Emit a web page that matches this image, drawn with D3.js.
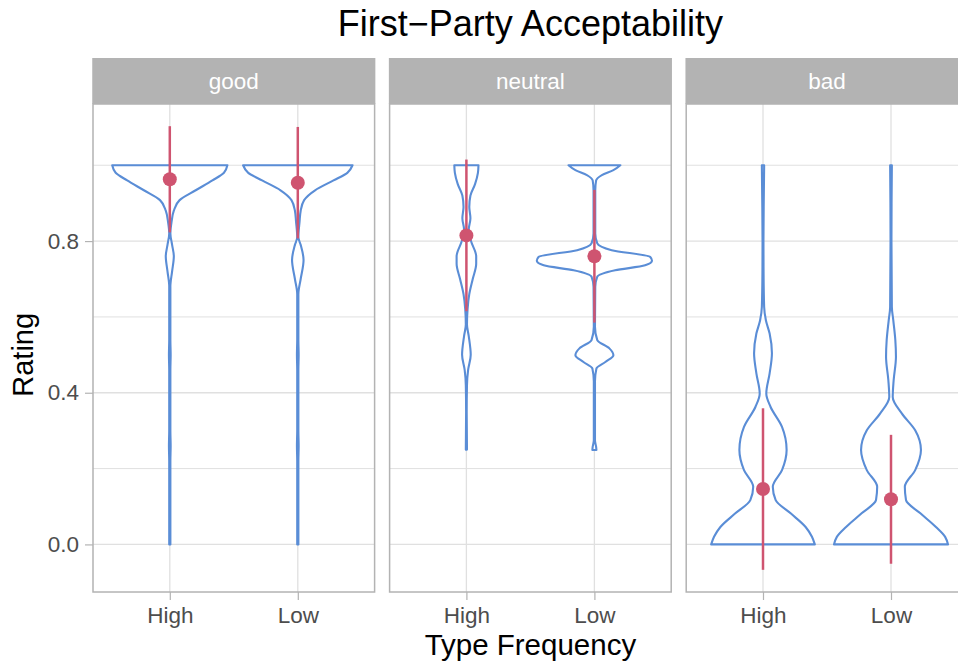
<!DOCTYPE html>
<html>
<head>
<meta charset="utf-8">
<script src="https://cdn.jsdelivr.net/npm/d3@7"></script>
<style>
  body { margin: 0; background: #fff; }
  svg { display: block; font-family: 'Liberation Sans', Arial, sans-serif; }
</style>
</head>
<body>
<div id="chart"></div>
<script>
const facets = ['good', 'neutral', 'bad']
const freqs = ['High', 'Low']
const yTicks = [0, 0.4, 0.8]
const yMinor = [0.2, 0.6, 1.0]

// [rating, density], density 1 = widest violin
const goodHigh = [
  [0.00, 0.01], [0.22, 0.01], [0.26, 0.015], [0.30, 0.01], [0.46, 0.01], [0.50, 0.015],
  [0.54, 0.01], [0.68, 0.01], [0.72, 0.04], [0.76, 0.07], [0.79, 0.04], [0.82, 0.01],
  [0.85, 0.03], [0.88, 0.07], [0.908, 0.17], [0.934, 0.45], [0.96, 0.74], [0.98, 0.94], [1.00, 1.00]
]
const goodLow = [
  [0.00, 0.01], [0.22, 0.01], [0.26, 0.015], [0.30, 0.01], [0.46, 0.01], [0.50, 0.015],
  [0.54, 0.01], [0.66, 0.01], [0.70, 0.05], [0.75, 0.10], [0.79, 0.05], [0.81, 0.01],
  [0.85, 0.03], [0.88, 0.05], [0.908, 0.11], [0.934, 0.30], [0.96, 0.62], [0.98, 0.86], [1.00, 0.95]
]
const neutralHigh = [
  [0.25, 0.01], [0.35, 0.005], [0.42, 0.01], [0.46, 0.03], [0.50, 0.075], [0.55, 0.04],
  [0.58, 0.01], [0.62, 0.02], [0.66, 0.05], [0.70, 0.11], [0.74, 0.17], [0.76, 0.17],
  [0.80, 0.08], [0.83, 0.04], [0.86, 0.07], [0.89, 0.05], [0.92, 0.07], [0.95, 0.15],
  [0.98, 0.20], [1.00, 0.21]
]
const neutralLow = [
  [0.249, 0.035], [0.257, 0.03], [0.275, 0.01], [0.43, 0.01], [0.464, 0.035], [0.481, 0.19],
  [0.499, 0.33], [0.517, 0.26], [0.539, 0.05], [0.574, 0.01], [0.679, 0.015], [0.706, 0.05],
  [0.723, 0.36], [0.736, 0.88], [0.748, 1.00], [0.758, 0.97], [0.776, 0.30], [0.794, 0.05],
  [0.82, 0.015], [0.934, 0.015], [0.96, 0.03], [0.974, 0.13], [0.987, 0.33], [1.00, 0.45]
]
const badHigh = [
  [0.00, 0.90], [0.02, 0.85], [0.046, 0.74], [0.082, 0.48], [0.117, 0.22], [0.152, 0.17],
  [0.196, 0.33], [0.249, 0.41], [0.31, 0.33], [0.363, 0.13], [0.398, 0.057], [0.451, 0.115],
  [0.504, 0.155], [0.556, 0.115], [0.591, 0.05], [0.626, 0.02], [0.715, 0.01], [0.80, 0.008],
  [0.89, 0.012], [1.00, 0.02]
]
const badLow = [
  [0.00, 0.99], [0.02, 0.94], [0.046, 0.78], [0.082, 0.51], [0.117, 0.26], [0.152, 0.24],
  [0.196, 0.42], [0.249, 0.52], [0.301, 0.42], [0.345, 0.19], [0.389, 0.03], [0.433, 0.046],
  [0.495, 0.086], [0.539, 0.075], [0.591, 0.04], [0.626, 0.015], [0.80, 0.008], [0.90, 0.01],
  [1.00, 0.015]
]
const violins = [[goodHigh, goodLow], [neutralHigh, neutralLow], [badHigh, badLow]]

// mean rating and half-length of the interval, per facet then frequency
const meanRating = [[0.963, 0.954], [0.815, 0.760], [0.146, 0.119]]
const errRating = [[0.140, 0.147], [0.200, 0.175], [0.213, 0.170]]

const width = 958
const height = 667
const panelLeft = 93
const panelW = 281.6
const panelGap = 15
const stripTop = 58
const panelTop = 104
const panelBottom = 592

const blue = '#5A8DD6'
const red = '#CF5470'
const grid = '#E0E0E0'
const frame = '#B3B3B3'

const svg = d3.select('#chart').append('svg')
  .attr('width', width)
  .attr('height', height)

svg.append('rect').attr('width', width).attr('height', height).attr('fill', '#fff')

// ggplot style 5% expansion round the interval ends
const lows = meanRating.flatMap((m, i) => m.map((v, j) => v - errRating[i][j]))
const highs = meanRating.flatMap((m, i) => m.map((v, j) => v + errRating[i][j]))
const lo = Math.min(d3.min(lows), 0)
const hi = Math.max(d3.max(highs), 1)
const pad = (hi - lo) * 0.05

const y = d3.scaleLinear().domain([lo - pad, hi + pad]).range([panelBottom, panelTop])
const x = d3.scalePoint().domain(freqs).range([0, panelW]).padding(0.6)
const halfW = d3.scaleLinear().domain([0, 1]).range([0, x.step() * 0.45])

const violinArea = (cx) => d3.area()
  .curve(d3.curveMonotoneY)
  .y(d => y(d[0]))
  .x0(d => cx - halfW(d[1]))
  .x1(d => cx + halfW(d[1]))

facets.forEach((facet, i) => {
  const g = svg.append('g')
    .attr('transform', `translate(${panelLeft + i * (panelW + panelGap)},0)`)

  // grid
  g.selectAll('line.minor')
    .data(yMinor)
    .enter().append('line')
    .attr('x1', 0).attr('x2', panelW)
    .attr('y1', d => y(d)).attr('y2', d => y(d))
    .attr('stroke', grid).attr('stroke-width', 1)

  g.selectAll('line.major')
    .data(yTicks)
    .enter().append('line')
    .attr('x1', 0).attr('x2', panelW)
    .attr('y1', d => y(d)).attr('y2', d => y(d))
    .attr('stroke', grid).attr('stroke-width', 1.3)

  g.selectAll('line.vgrid')
    .data(freqs)
    .enter().append('line')
    .attr('x1', d => x(d)).attr('x2', d => x(d))
    .attr('y1', panelTop).attr('y2', panelBottom)
    .attr('stroke', grid).attr('stroke-width', 1.3)

  // violins
  freqs.forEach((f, j) => {
    g.append('path')
      .datum(violins[i][j])
      .attr('d', violinArea(x(f)))
      .attr('fill', '#fff')
      .attr('stroke', blue)
      .attr('stroke-width', 2.1)
      .attr('stroke-linejoin', 'round')
  })

  // mean and interval
  freqs.forEach((f, j) => {
    const m = meanRating[i][j]
    const e = errRating[i][j]
    g.append('line')
      .attr('x1', x(f)).attr('x2', x(f))
      .attr('y1', y(m - e)).attr('y2', y(m + e))
      .attr('stroke', red).attr('stroke-width', 2.5)
    g.append('circle')
      .attr('cx', x(f)).attr('cy', y(m))
      .attr('r', 7)
      .attr('fill', red)
  })

  // border
  g.append('rect')
    .attr('x', 0).attr('y', panelTop)
    .attr('width', panelW).attr('height', panelBottom - panelTop)
    .attr('fill', 'none')
    .attr('stroke', frame).attr('stroke-width', 1.5)

  // strip
  g.append('rect')
    .attr('x', -0.75).attr('y', stripTop)
    .attr('width', panelW + 1.5).attr('height', panelTop - stripTop)
    .attr('fill', '#B3B3B3')
  g.append('text')
    .attr('x', panelW / 2).attr('y', (stripTop + panelTop) / 2)
    .attr('dy', '0.35em')
    .attr('text-anchor', 'middle')
    .attr('fill', '#fff')
    .attr('font-size', 22.5)
    .text(facet)

  // x axis
  const xAxis = g.append('g')
    .attr('transform', `translate(0,${panelBottom})`)
    .call(d3.axisBottom(x).tickSize(8).tickPadding(7))
  xAxis.select('.domain').remove()
  xAxis.selectAll('line').attr('stroke', frame).attr('stroke-width', 1.2)
  xAxis.selectAll('text')
    .attr('fill', '#4D4D4D')
    .attr('font-size', 22.5)
    .attr('font-family', null)
})

// y axis on the first panel
const yAxis = svg.append('g')
  .attr('transform', `translate(${panelLeft},0)`)
  .call(d3.axisLeft(y).tickValues(yTicks).tickFormat(d3.format('.1f')).tickSize(8).tickPadding(6))
yAxis.select('.domain').remove()
yAxis.selectAll('line').attr('stroke', frame).attr('stroke-width', 1.2)
yAxis.selectAll('text')
  .attr('fill', '#4D4D4D')
  .attr('font-size', 22.5)
  .attr('font-family', null)

const plotCenter = panelLeft + (3 * panelW + 2 * panelGap) / 2

svg.append('text')
  .attr('x', plotCenter).attr('y', 36)
  .attr('text-anchor', 'middle')
  .attr('font-size', 36)
  .attr('fill', '#000')
  .text('First\u2212Party Acceptability')

svg.append('text')
  .attr('x', plotCenter).attr('y', 655)
  .attr('text-anchor', 'middle')
  .attr('font-size', 29.5)
  .attr('fill', '#000')
  .text('Type Frequency')

svg.append('text')
  .attr('transform', `translate(33,${y(0.5)}) rotate(-90)`)
  .attr('text-anchor', 'middle')
  .attr('font-size', 29)
  .attr('fill', '#000')
  .text('Rating')
</script>
</body>
</html>
